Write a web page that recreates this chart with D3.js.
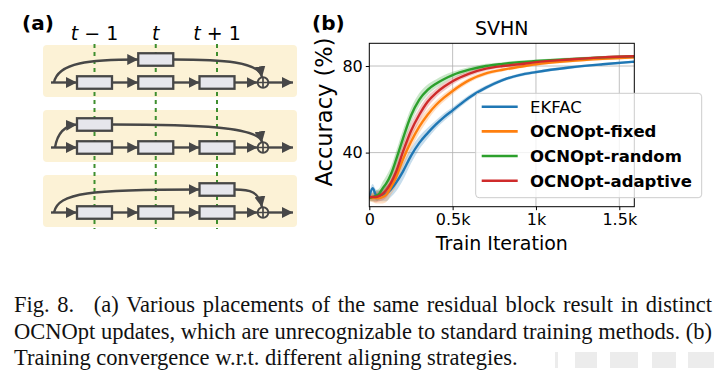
<!DOCTYPE html>
<html>
<head>
<meta charset="utf-8">
<script src="https://cdn.jsdelivr.net/npm/d3@7"></script>
<style>
  body { margin: 0; background: #fff; }
  svg { display: block; }
</style>
</head>
<body>
<svg id="fig" width="725" height="378"></svg>
<script>
// ---- panel (b) data ----
var iterations = [0, 20, 40, 60, 80, 100, 130, 160, 200, 250, 300, 350, 400, 450, 500, 600, 700, 800, 900, 1000, 1200, 1400, 1590];
var ekfac = [19.5, 23.5, 20.5, 20, 20.5, 21, 23, 26, 31, 38.5, 44.5, 49, 53, 56.5, 59.5, 65.5, 70, 73.5, 75.8, 77.2, 79.3, 80.8, 82];
var ocnFixed = [19, 19, 19, 19, 19.5, 20.5, 24, 28.5, 36.5, 45, 52, 57.5, 62, 65.5, 68.5, 73.5, 76.6, 78.3, 79.6, 80.8, 82.3, 83.3, 84];
var ocnRandom = [19, 19.5, 20, 21, 23.5, 25.5, 30, 36.5, 46, 57, 64.5, 69, 71.8, 74, 75.8, 78.3, 80, 81, 81.8, 82.3, 83.2, 84, 84.5];
var ocnAdaptive = [19.5, 19.5, 19.5, 20, 21, 22.5, 26, 31, 40, 50, 57.5, 63.5, 67.5, 70.5, 73, 76.5, 78.8, 80, 80.8, 81.8, 83, 84, 84.5];
var spread = [1.5, 2, 2.5, 2.5, 3, 3.5, 3.5, 4, 4, 3.5, 3, 2.5, 2, 1.8, 1.5, 1.2, 1, 0.8, 0.8, 0.7, 0.7, 0.6, 0.6];

var seriesNames = ["EKFAC", "OCNOpt-fixed", "OCNOpt-random", "OCNOpt-adaptive"];
var seriesValues = [ekfac, ocnFixed, ocnRandom, ocnAdaptive];
var seriesColors = ["#1f77b4", "#ff7f0e", "#2ca02c", "#cf2b2b"];
var xTicks = [0, 500, 1000, 1500];
var xTickLabels = ["0", "0.5k", "1k", "1.5k"];
var yTicks = [40, 80];

// ---- panel (a) data ----
var stepLabels = ["t", "t", "t"];
var stepSuffix = [" \u2212 1", "", " + 1"];
var skipColumn = [1, 0, 2];   // where the residual block sits, per row

// ---- caption ----
var captionLines = [
  ["Fig. 8.", "(a) Various placements of the same residual block result in distinct"],
  ["OCNOpt updates, which are unrecognizable to standard training methods. (b)"],
  ["Training convergence w.r.t. different aligning strategies."]
];

var svg = d3.select("#fig");
var ink = "#474747";

// ================= panel (a) =================
var defs = svg.append("defs");
defs.append("marker")
  .attr("id", "head")
  .attr("markerUnits", "userSpaceOnUse")
  .attr("markerWidth", 12).attr("markerHeight", 11)
  .attr("refX", 11).attr("refY", 5.5)
  .attr("orient", "auto")
  .append("path")
  .attr("d", "M0,0 L11,5.5 L0,11 z")
  .attr("fill", ink);

var col = d3.scalePoint().domain([0, 1, 2]).range([94.5, 217]);
var rowTop = d3.scaleLinear().domain([0, 2]).range([45, 175]);
var boxW = 35, boxH = 12.5, panelH = 52;
var plusX = 263, plusR = 5.3;

var diagram = svg.append("g");

diagram.append("text")
  .attr("x", 22).attr("y", 29.5)
  .attr("font-family", "DejaVu Sans").attr("font-weight", "bold").attr("font-size", 20)
  .text("(a)");

stepLabels.forEach(function(s, i) {
  var t = diagram.append("text")
    .attr("x", col(i)).attr("y", 40)
    .attr("text-anchor", "middle")
    .attr("font-family", "DejaVu Sans").attr("font-size", 19);
  t.append("tspan").attr("font-style", "italic").text(s);
  t.append("tspan").text(stepSuffix[i]);
});

[0, 1, 2].forEach(function(r) {
  diagram.append("rect")
    .attr("x", 43).attr("y", rowTop(r))
    .attr("width", 254).attr("height", panelH)
    .attr("rx", 4)
    .attr("fill", "#fcf2d6");
});

[0, 1, 2].forEach(function(c) {
  diagram.append("line")
    .attr("x1", col(c)).attr("x2", col(c))
    .attr("y1", 44).attr("y2", 229)
    .attr("stroke", "#3f8f2f").attr("stroke-width", 2)
    .attr("stroke-dasharray", "4,4");
});

function arrow(g, d) {
  g.append("path")
    .attr("d", d)
    .attr("fill", "none")
    .attr("stroke", ink).attr("stroke-width", 2.4)
    .attr("marker-end", "url(#head)");
}

function box(g, cx, cy) {
  g.append("rect")
    .attr("x", cx - boxW / 2).attr("y", cy - boxH / 2)
    .attr("width", boxW).attr("height", boxH)
    .attr("fill", "#e6e6ec")
    .attr("stroke", ink).attr("stroke-width", 2.3);
}

skipColumn.forEach(function(k, r) {
  var rt = rowTop(r);
  var my = rt + 37.5, sy = rt + 14.5;
  var g = diagram.append("g");

  // main chain
  arrow(g, "M51," + my + "L" + (col(0) - boxW / 2) + "," + my);
  arrow(g, "M" + (col(0) + boxW / 2) + "," + my + "L" + (col(1) - boxW / 2) + "," + my);
  arrow(g, "M" + (col(1) + boxW / 2) + "," + my + "L" + (col(2) - boxW / 2) + "," + my);
  arrow(g, "M" + (col(2) + boxW / 2) + "," + my + "L" + (plusX - plusR) + "," + my);
  arrow(g, "M" + (plusX + plusR) + "," + my + "L" + 293 + "," + my);

  // skip branch into the residual block
  var bx0 = col(k) - boxW / 2, bx1 = col(k) + boxW / 2;
  if (k === 0) {
    arrow(g, "M55," + my + "C57," + (my - 12) + " 63," + (sy + 1) + " " + bx0 + "," + sy);
  } else {
    arrow(g, "M54," + my + "C58," + (sy + 3) + " 90," + sy + " " + bx0 + "," + sy);
  }
  // back into the sum
  arrow(g, "M" + bx1 + "," + sy + "C" + (bx1 + 0.55 * (plusX - bx1)) + "," + sy + " " +
    (plusX - 4) + "," + (sy + 2) + " " + (plusX - 1) + "," + (my - plusR));

  box(g, col(k), sy);
  [0, 1, 2].forEach(function(c) { box(g, col(c), my); });

  g.append("circle")
    .attr("cx", plusX).attr("cy", my).attr("r", plusR)
    .attr("fill", "#fcf2d6").attr("stroke", ink).attr("stroke-width", 1.9);
  g.append("path")
    .attr("d", "M" + (plusX - plusR) + "," + my + "H" + (plusX + plusR) +
      "M" + plusX + "," + (my - plusR) + "V" + (my + plusR))
    .attr("stroke", ink).attr("stroke-width", 1.7);
});

// ================= panel (b) =================
var pLeft = 369.3, pRight = 634.3, pTop = 43.3, pBottom = 206.7;
var x = d3.scaleLinear().domain([0, 1590]).range([pLeft, pRight]);
var y = d3.scaleLinear().domain([15, 90.5]).range([pBottom, pTop]);

var chart = svg.append("g").attr("font-family", "DejaVu Sans");

defs.append("clipPath").attr("id", "plotclip")
  .append("rect").attr("x", pLeft).attr("y", pTop)
  .attr("width", pRight - pLeft).attr("height", pBottom - pTop);

// grid
chart.append("g").selectAll("line").data(xTicks.slice(1)).join("line")
  .attr("x1", x).attr("x2", x).attr("y1", pTop).attr("y2", pBottom)
  .attr("stroke", "#b0b0b0").attr("stroke-width", 0.8);
chart.append("g").selectAll("line").data(yTicks).join("line")
  .attr("y1", y).attr("y2", y).attr("x1", pLeft).attr("x2", pRight)
  .attr("stroke", "#b0b0b0").attr("stroke-width", 0.8);

var plot = chart.append("g").attr("clip-path", "url(#plotclip)");

var band = d3.area()
  .x(function(d) { return x(d.it); })
  .y0(function(d) { return y(d.v - d.s); })
  .y1(function(d) { return y(d.v + d.s); })
  .curve(d3.curveMonotoneX);
var line = d3.line()
  .x(function(d) { return x(d.it); })
  .y(function(d) { return y(d.v); })
  .curve(d3.curveMonotoneX);

var series = seriesValues.map(function(vals) {
  return vals.map(function(v, i) { return { it: iterations[i], v: v, s: spread[i] }; });
});

series.forEach(function(pts, i) {
  plot.append("path").attr("d", band(pts))
    .attr("fill", seriesColors[i]).attr("opacity", 0.25);
});
series.forEach(function(pts, i) {
  plot.append("path").attr("d", line(pts))
    .attr("fill", "none").attr("stroke", seriesColors[i]).attr("stroke-width", 2.4);
});

// axes
var xAxis = d3.axisBottom(x).tickValues(xTicks)
  .tickFormat(function(d, i) { return xTickLabels[i]; })
  .tickSize(3.5).tickPadding(3);
var yAxis = d3.axisLeft(y).tickValues(yTicks).tickSize(3.5).tickPadding(3);

var gx = chart.append("g").attr("transform", "translate(0," + pBottom + ")").call(xAxis);
var gy = chart.append("g").attr("transform", "translate(" + pLeft + ",0)").call(yAxis);
[gx, gy].forEach(function(g) {
  g.select(".domain").remove();
  g.selectAll("text").attr("font-size", 16).attr("font-family", "DejaVu Sans").attr("fill", "#000");
  g.selectAll("line").attr("stroke", "#000");
});

chart.append("rect")
  .attr("x", pLeft).attr("y", pTop).attr("width", pRight - pLeft).attr("height", pBottom - pTop)
  .attr("fill", "none").attr("stroke", "#000").attr("stroke-width", 1);

chart.append("text").attr("x", (pLeft + pRight) / 2).attr("y", 35)
  .attr("text-anchor", "middle").attr("font-size", 19).text("SVHN");
chart.append("text").attr("x", (pLeft + pRight) / 2).attr("y", 250)
  .attr("text-anchor", "middle").attr("font-size", 19).text("Train Iteration");
chart.append("text")
  .attr("transform", "translate(332,112) rotate(-90)")
  .attr("text-anchor", "middle").attr("font-size", 22.5).text("Accuracy (%)");
chart.append("text").attr("x", 312).attr("y", 29.5)
  .attr("font-weight", "bold").attr("font-size", 20).text("(b)");

// legend
var legend = chart.append("g");
legend.append("rect")
  .attr("x", 475.7).attr("y", 93.3).attr("width", 226).attr("height", 104.4)
  .attr("rx", 3.5)
  .attr("fill", "#fff").attr("fill-opacity", 0.8)
  .attr("stroke", "#cccccc").attr("stroke-width", 1);
var ly = d3.scalePoint().domain(seriesNames).range([106.7, 180.7]);
seriesNames.forEach(function(name, i) {
  legend.append("line")
    .attr("x1", 481.7).attr("x2", 517.7).attr("y1", ly(name)).attr("y2", ly(name))
    .attr("stroke", seriesColors[i]).attr("stroke-width", 2.6);
  legend.append("text")
    .attr("x", 530).attr("y", ly(name) + 6)
    .attr("font-size", 16.5)
    .attr("font-weight", i === 0 ? "normal" : "bold")
    .text(name);
});

// ================= caption =================
var capX0 = 14, capX1 = 712, capSize = 22.5;
var cap = svg.append("g")
  .attr("font-family", "Liberation Serif")
  .attr("font-size", capSize)
  .attr("fill", "#111");

function setLine(parts, baseline, justify) {
  var words = [];
  parts.forEach(function(p, pi) {
    p.split(" ").forEach(function(w, wi) {
      words.push({ text: w, gapBefore: (pi > 0 && wi === 0) ? 2.6 : 1 });
    });
  });
  words[0].gapBefore = 0;
  var nodes = words.map(function(w) {
    return cap.append("text").attr("y", baseline).text(w.text);
  });
  var widths = nodes.map(function(n) { return n.node().getComputedTextLength(); });
  var total = d3.sum(widths);
  var units = d3.sum(words, function(w) { return w.gapBefore; });
  var gap = justify ? (capX1 - capX0 - total) / units : capSize * 0.25;
  var pos = capX0;
  nodes.forEach(function(n, i) {
    pos += words[i].gapBefore * gap;
    n.attr("x", pos);
    pos += widths[i];
  });
}

setLine(captionLines[0], 312, true);
setLine(captionLines[1], 338.5, true);
setLine(captionLines[2], 365, false);

// faint stamp at bottom right
var stamp = [[555, 3], [575, 22], [610, 28], [652, 24], [688, 26]];
stamp.forEach(function(s) {
  svg.append("rect")
    .attr("x", s[0]).attr("y", 352).attr("width", s[1]).attr("height", 16)
    .attr("fill", "#e4e4e4").attr("opacity", 0.7);
});
</script>
</body>
</html>
